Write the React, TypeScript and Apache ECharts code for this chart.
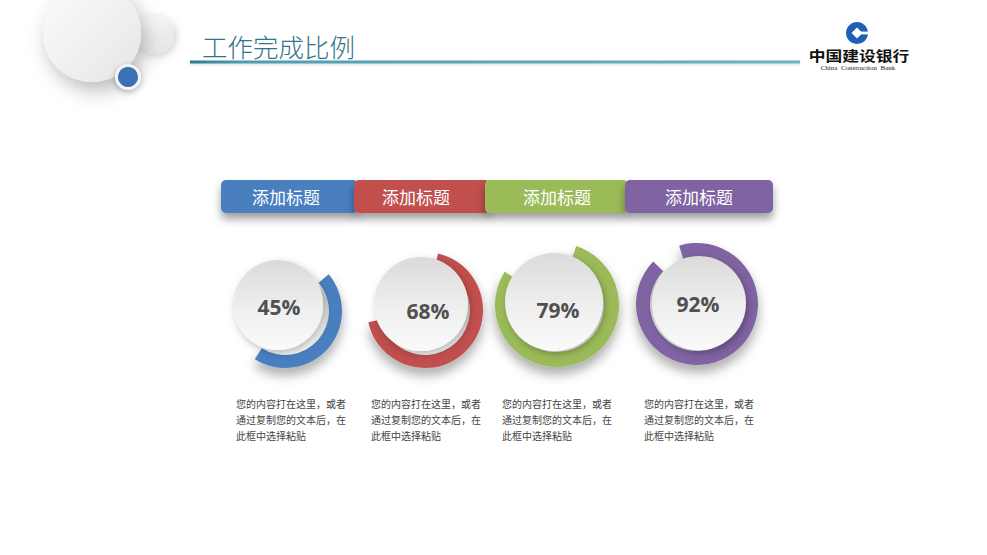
import React, { useEffect, useRef } from 'react';
import * as echarts from 'echarts';

// ---- data ----
const titles = ['添加标题', '添加标题', '添加标题', '添加标题'];
const percents = [45, 68, 79, 92];
const colors = ['#4a7ebf', '#c0504d', '#9bbb59', '#8064a2'];
const descLines = ['您的内容打在这里，或者', '通过复制您的文本后，在', '此框中选择粘贴'];
const pageTitle = '工作完成比例';
const bankName = '中国建设银行';
const bankNameEn = 'China  Construction  Bank';

// ---- layout ----
const ringCenters = [[285, 311], [425, 310], [557, 305], [697, 304]];
const ringRadii = [[44, 57], [45, 58], [47, 62], [47, 61]];
const discCenters = [[278, 305], [421, 304], [554, 302], [699, 303]];
const discRadii = [45, 47, 49, 47];
const labelOffsets = [[1, 2], [7, 7], [4, 8], [-1, 1]];
const startAngles = [40, 77, 72, 107];
const tabBoxes = [[221, 137], [354, 136], [485, 143], [625, 148]];
const tabTextX = [286, 416, 557, 699];
const descX = [236, 371, 502, 644];

export default function App() {
  const ref = useRef<HTMLDivElement>(null);
  useEffect(() => {
    document.body.style.margin = '0';
    const chart = echarts.init(ref.current!, null, { renderer: 'svg' });

    const series: any[] = [];
    percents.forEach((p, i) => {
      series.push({
        type: 'pie',
        silent: true,
        z: 2,
        center: ringCenters[i],
        radius: ringRadii[i],
        startAngle: startAngles[i],
        clockwise: true,
        label: { show: false },
        labelLine: { show: false },
        data: [
          {
            value: p,
            itemStyle: {
              color: colors[i],
              shadowBlur: 12,
              shadowColor: 'rgba(0,0,0,0.35)',
              shadowOffsetY: 7,
            },
          },
          { value: 100 - p, itemStyle: { color: 'rgba(0,0,0,0)' } },
        ],
      });
      series.push({
        type: 'pie',
        silent: true,
        z: 3,
        center: discCenters[i],
        radius: [0, discRadii[i]],
        label: {
          show: true,
          position: 'center',
          formatter: `${p}%`,
          offset: labelOffsets[i],
          fontSize: 21,
          fontWeight: 'bold',
          color: '#505050',
          fontFamily: 'Open Sans, Noto Sans, sans-serif',
        },
        labelLine: { show: false },
        data: [
          {
            value: 1,
            itemStyle: {
              color: new echarts.graphic.LinearGradient(0, 0, 0, 1, [
                { offset: 0, color: '#dadada' },
                { offset: 0.55, color: '#efefef' },
                { offset: 1, color: '#fafafa' },
              ]),
              shadowBlur: 7,
              shadowColor: 'rgba(0,0,0,0.28)',
              shadowOffsetX: 2,
              shadowOffsetY: 3,
            },
          },
        ],
      });
    });

    const graphics: any[] = [];
    // top-left decoration
    graphics.push({
      type: 'circle', z: 1, shape: { cx: 155, cy: 35, r: 19 },
      style: {
        fill: new echarts.graphic.LinearGradient(0, 0, 1, 1, [
          { offset: 0, color: '#ffffff' }, { offset: 1, color: '#e2e2e2' },
        ]),
        shadowBlur: 8, shadowColor: 'rgba(0,0,0,0.2)', shadowOffsetX: 2, shadowOffsetY: 2,
      },
    });
    graphics.push({
      type: 'circle', z: 2, shape: { cx: 92, cy: 33, r: 49 },
      style: {
        fill: new echarts.graphic.LinearGradient(0, 0, 1, 1, [
          { offset: 0, color: '#fbfbfb' }, { offset: 1, color: '#e6e6e6' },
        ]),
        shadowBlur: 20, shadowColor: 'rgba(0,0,0,0.28)', shadowOffsetX: 5, shadowOffsetY: 8,
      },
    });
    graphics.push({
      type: 'circle', z: 3, shape: { cx: 128, cy: 77, r: 13 },
      style: { fill: '#f4f4f4', shadowBlur: 6, shadowColor: 'rgba(0,0,0,0.3)', shadowOffsetY: 2 },
    });
    graphics.push({
      type: 'circle', z: 4, shape: { cx: 128, cy: 77, r: 10 },
      style: { fill: '#3b6fb6' },
    });
    // title
    graphics.push({
      type: 'text', z: 5, x: 202, y: 45,
      style: {
        text: pageTitle, fill: '#34738b', fontSize: 25.5,
        fontFamily: 'Noto Sans CJK SC', fontWeight: 300,
        textVerticalAlign: 'middle', textAlign: 'left',
      },
    });
    graphics.push({
      type: 'rect', z: 5, shape: { x: 190, y: 60.5, width: 610, height: 3 },
      style: {
        fill: new echarts.graphic.LinearGradient(0, 0, 1, 0, [
          { offset: 0, color: '#2d7a91' }, { offset: 0.08, color: '#4d9db2' }, { offset: 1, color: '#6cb2c4' },
        ]),
        shadowBlur: 2, shadowColor: 'rgba(0,0,0,0.15)', shadowOffsetY: 1,
      },
    });
    // logo
    graphics.push({ type: 'circle', z: 5, shape: { cx: 857, cy: 33, r: 11 }, style: { fill: '#1f5fb8' } });
    graphics.push({
      type: 'polygon', z: 6,
      shape: { points: [[857, 27.5], [862.5, 33], [857, 38.5], [851.5, 33]] },
      style: { fill: '#ffffff' },
    });
    graphics.push({ type: 'rect', z: 6, shape: { x: 858, y: 31.6, width: 12, height: 2.8 }, style: { fill: '#ffffff' } });
    graphics.push({
      type: 'text', z: 6, x: 859, y: 54.5, scaleX: 1.2,
      style: {
        text: bankName, fill: '#111', fontSize: 14, fontWeight: 'bold',
        fontFamily: 'Noto Sans CJK SC', textAlign: 'center', textVerticalAlign: 'middle',
      },
    });
    graphics.push({
      type: 'text', z: 6, x: 858, y: 67.5,
      style: {
        text: bankNameEn, fill: '#222', fontSize: 7,
        fontFamily: 'Liberation Serif, serif', textAlign: 'center', textVerticalAlign: 'middle',
      },
    });
    // tabs
    titles.forEach((t, i) => {
      const [x, w] = tabBoxes[i];
      graphics.push({
        type: 'rect', z: 10 + i * 2,
        shape: { x, y: 180, width: w, height: 33, r: 5 },
        style: {
          fill: colors[i], shadowBlur: 8, shadowColor: 'rgba(0,0,0,0.38)', shadowOffsetY: 6,
        },
      });
      graphics.push({
        type: 'text', z: 11 + i * 2, x: tabTextX[i], y: 196.5,
        style: {
          text: t, fill: '#ffffff', fontSize: 17, fontFamily: 'Noto Sans CJK SC',
          textAlign: 'center', textVerticalAlign: 'middle',
        },
      });
    });
    // descriptions
    descX.forEach((x) => {
      descLines.forEach((line, j) => {
        graphics.push({
          type: 'text', z: 5, x, y: 403 + j * 16,
          style: {
            text: line, fill: '#444', fontSize: 10, fontFamily: 'Noto Sans CJK SC',
            textAlign: 'left', textVerticalAlign: 'middle',
          },
        });
      });
    });

    chart.setOption({
      animation: false,
      backgroundColor: '#ffffff',
      series,
      graphic: { elements: graphics },
    });
    return () => chart.dispose();
  }, []);
  return <div ref={ref} style={{ position: 'fixed', left: 0, top: 0, width: 987, height: 555 }} />;
}
